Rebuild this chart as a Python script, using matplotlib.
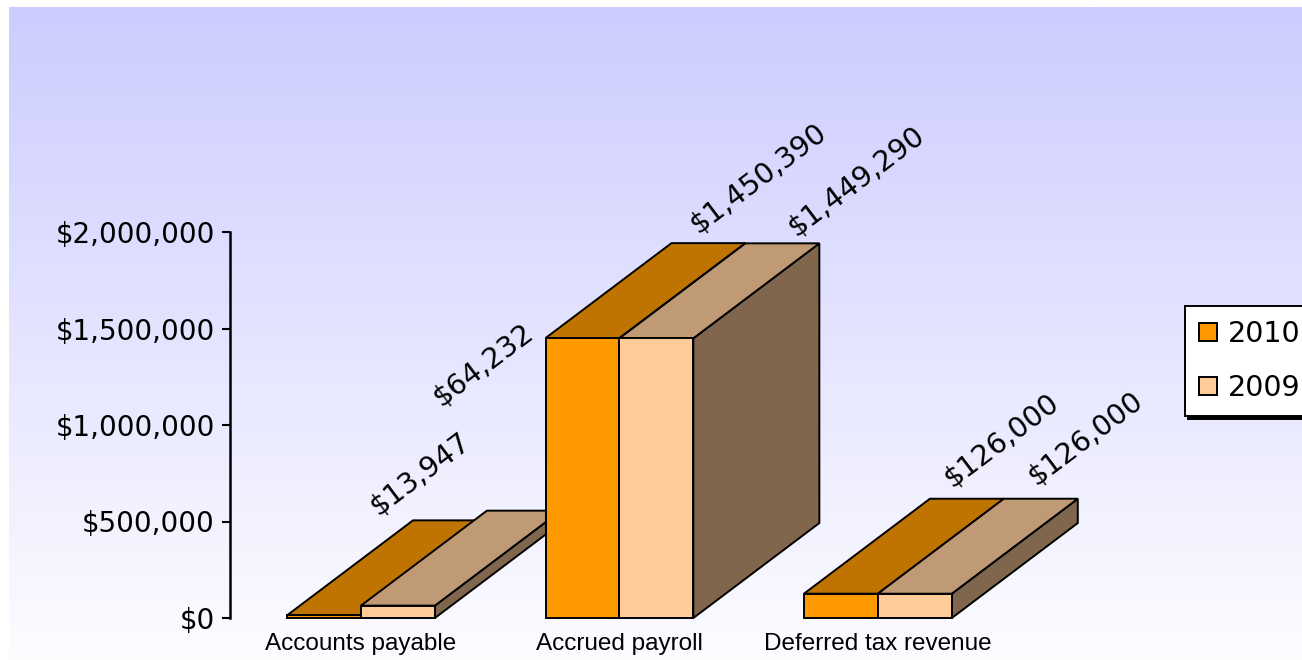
import matplotlib
matplotlib.use("Agg")
import matplotlib.pyplot as plt
import numpy as np
from matplotlib.patches import Polygon, Rectangle
from matplotlib.ticker import FuncFormatter

categories = ["Accounts payable", "Accrued payroll", "Deferred tax revenue"]
series_names = ["2010", "2009"]
values_2010 = [13947, 1450390, 126000]
values_2009 = [64232, 1449290, 126000]

front_colors = ["#FF9900", "#FFCC99"]
top_colors = ["#BF7300", "#C09A74"]
side_color = "#7F664C"

# pixel offsets of the rotated value labels (relative to the back-top of each bar)
label_offsets = [
    [(-30, 46), (-40, 146)],
    [(50, 65), (74, 62)],
    [(35, 58), (45, 60)],
]

W, H = 1302, 660
fig = plt.figure(figsize=(W / 100, H / 100), dpi=100)

# gradient background
bg = fig.add_axes([9 / W, 0, 1 - 9 / W, 1 - 7 / H], zorder=0)
t = np.linspace(0, 1, 256)[:, None, None]
top_rgb = np.array([0.80, 0.80, 1.0])
bot_rgb = np.array([0.99, 0.99, 1.0])
grad = top_rgb * (1 - t) + bot_rgb * t
bg.imshow(np.repeat(grad, 2, axis=1), aspect="auto", extent=[0, 1, 0, 1])
bg.axis("off")

ax = fig.add_axes([230 / W, (H - 618) / H, (1110 - 230) / W, 386 / H], zorder=1)
ax.patch.set_alpha(0)
ax.set_ylim(0, 2_000_000)
ax.set_xlim(-0.5068, 2.898)

bar_w = 0.286
depth_x = 0.4874
depth_y = 492_000
edge = dict(edgecolor="black", linewidth=1.4, joinstyle="miter", clip_on=False)

for i, cat in enumerate(categories):
    for k, vals in enumerate([values_2010, values_2009]):
        v = vals[i]
        left = i - bar_w + k * bar_w
        right = left + bar_w
        side = Polygon([(right, 0), (right + depth_x, depth_y), (right + depth_x, v + depth_y), (right, v)],
                       facecolor=side_color, **edge)
        top = Polygon([(left, v), (right, v), (right + depth_x, v + depth_y), (left + depth_x, v + depth_y)],
                      facecolor=top_colors[k], **edge)
        front = Rectangle((left, 0), bar_w, v, facecolor=front_colors[k], **edge)
        for p in (side, top, front):
            ax.add_patch(p)
        ox, oy = label_offsets[i][k]
        ax.annotate(f"${v:,.0f}", xy=(left + bar_w / 2 + depth_x, v + depth_y), xytext=(ox, oy),
                    textcoords="offset pixels", rotation=37, rotation_mode="anchor",
                    ha="center", va="center", fontsize=20.5, annotation_clip=False)

ax.yaxis.set_major_formatter(FuncFormatter(lambda y, _: f"${y:,.0f}"))
ax.set_yticks(np.arange(0, 2_000_001, 500_000))
ax.tick_params(axis="y", labelsize=20, length=6, width=1.5, pad=5, direction="out")
ax.set_xticks(range(len(categories)))
ax.set_xticklabels(categories, fontsize=17.5, family="Liberation Sans")
ax.tick_params(axis="x", length=0, pad=11)
for s in ["top", "right", "bottom"]:
    ax.spines[s].set_visible(False)
ax.spines["left"].set_linewidth(1.8)

handles = [Rectangle((0, 0), 1, 1, facecolor=c, edgecolor="black", linewidth=1.4) for c in front_colors]
leg = fig.legend(handles, series_names, loc="upper left", bbox_to_anchor=(1185 / W, 1 - 306 / H),
                 fontsize=20.5, frameon=True, fancybox=False, shadow={"color": "black", "alpha": 1},
                 handlelength=0.62, handleheight=0.62, handletextpad=0.4, labelspacing=0.9,
                 borderpad=0.5, borderaxespad=0)
leg.get_frame().set_edgecolor("black")
leg.get_frame().set_linewidth(1.4)
leg.get_frame().set_alpha(1)

fig.savefig("out.png", dpi=100)
